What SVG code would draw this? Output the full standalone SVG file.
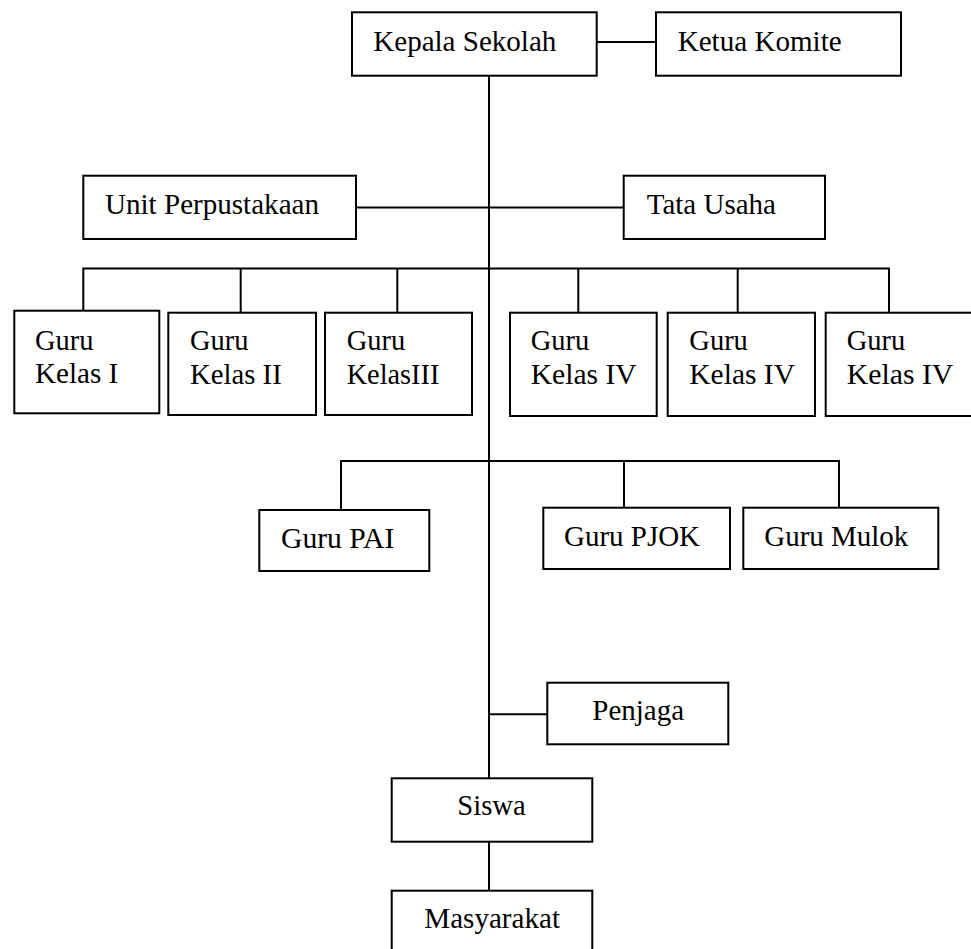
<svg xmlns="http://www.w3.org/2000/svg" width="971" height="949" viewBox="0 0 971 949">
<style>
.box{fill:#fff;stroke:#000;stroke-width:2}
.ln{stroke:#000;stroke-width:2;fill:none}
.t{font-family:'Liberation Serif','Times New Roman',serif;font-size:28.5px;fill:#000}
.tl{font-size:30px}
</style>
<rect width="971" height="949" fill="#fff"/>
<g id="connectors">
<line class="ln" x1="489" y1="76" x2="489" y2="778"/>
<line class="ln" x1="597" y1="42" x2="656" y2="42"/>
<line class="ln" x1="356" y1="207.5" x2="624" y2="207.5"/>
<polyline class="ln" points="83.3,310.7 83.3,268.5 889,268.5 889,312.7"/>
<line class="ln" x1="240.7" y1="268.5" x2="240.7" y2="312.7"/>
<line class="ln" x1="397.3" y1="268.5" x2="397.3" y2="312.7"/>
<line class="ln" x1="578.3" y1="268.5" x2="578.3" y2="312.7"/>
<line class="ln" x1="737.7" y1="268.5" x2="737.7" y2="312.7"/>
<polyline class="ln" points="341,510 341,461 839,461 839,507.7"/>
<line class="ln" x1="624" y1="461" x2="624" y2="507.7"/>
<line class="ln" x1="489" y1="714.3" x2="547.3" y2="714.3"/>
<line class="ln" x1="489" y1="841.7" x2="489" y2="890.7"/>
</g>
<g class="t">
<g id="kepala"><rect class="box" x="352" y="12.3" width="244.7" height="63.4"/><text x="373.3" y="51" textLength="183" lengthAdjust="spacingAndGlyphs">Kepala Sekolah</text></g>
<g id="ketua"><rect class="box" x="656" y="12.3" width="245" height="63.4"/><text x="677.7" y="51" textLength="164" lengthAdjust="spacingAndGlyphs">Ketua Komite</text></g>
<g id="unit"><rect class="box" x="83.3" y="175.7" width="272.7" height="63.3"/><text x="105" y="214" textLength="214" lengthAdjust="spacingAndGlyphs">Unit Perpustakaan</text></g>
<g id="tata"><rect class="box" x="623.7" y="175.7" width="201.3" height="63.3"/><text x="646.7" y="214" textLength="129.3" lengthAdjust="spacingAndGlyphs">Tata Usaha</text></g>
<g id="kelas1"><rect class="box" x="14.3" y="310.7" width="145" height="102.6"/><text x="35" y="350">Guru</text><text x="35" y="383" textLength="83.3" lengthAdjust="spacingAndGlyphs">Kelas I</text></g>
<g id="kelas2"><rect class="box" x="168.3" y="312.7" width="147.7" height="102.3"/><text x="190" y="350">Guru</text><text x="190" y="384" textLength="91.7" lengthAdjust="spacingAndGlyphs">Kelas II</text></g>
<g id="kelas3"><rect class="box" x="325" y="312.7" width="147" height="102.3"/><text x="346.7" y="350">Guru</text><text x="346.7" y="384" textLength="92.7" lengthAdjust="spacingAndGlyphs">KelasIII</text></g>
<g id="kelas4a"><rect class="box" x="510" y="312.7" width="146.7" height="103.3"/><text x="530.7" y="350">Guru</text><text x="530.7" y="384" textLength="106" lengthAdjust="spacingAndGlyphs">Kelas IV</text></g>
<g id="kelas4b"><rect class="box" x="667.7" y="312.7" width="147.3" height="103.3"/><text x="689.3" y="350">Guru</text><text x="689.3" y="384" textLength="105.7" lengthAdjust="spacingAndGlyphs">Kelas IV</text></g>
<g id="kelas4c"><rect class="box" x="825.7" y="312.7" width="150" height="103.3"/><text x="846.7" y="350">Guru</text><text x="846.7" y="384" textLength="106.7" lengthAdjust="spacingAndGlyphs">Kelas IV</text></g>
<g id="pai"><rect class="box" x="259.3" y="510" width="170" height="61"/><text class="tl" x="281" y="548" textLength="113.3" lengthAdjust="spacingAndGlyphs">Guru PAI</text></g>
<g id="pjok"><rect class="box" x="543.3" y="507.7" width="186.7" height="61.3"/><text class="tl" x="564" y="546" textLength="136" lengthAdjust="spacingAndGlyphs">Guru PJOK</text></g>
<g id="mulok"><rect class="box" x="743.3" y="507.7" width="195" height="61.3"/><text class="tl" x="764.3" y="545.5" textLength="144" lengthAdjust="spacingAndGlyphs">Guru Mulok</text></g>
<g id="penjaga"><rect class="box" x="547.3" y="682.7" width="181" height="61.6"/><text x="592.3" y="719.5" textLength="91.7" lengthAdjust="spacingAndGlyphs">Penjaga</text></g>
<g id="siswa"><rect class="box" x="391.7" y="778.3" width="200.6" height="63.4"/><text x="457.3" y="815" textLength="68.4" lengthAdjust="spacingAndGlyphs">Siswa</text></g>
<g id="masyarakat"><rect class="box" x="391.7" y="890.7" width="200.6" height="70"/><text x="424.3" y="928" textLength="135.7" lengthAdjust="spacingAndGlyphs">Masyarakat</text></g>
</g>
</svg>
